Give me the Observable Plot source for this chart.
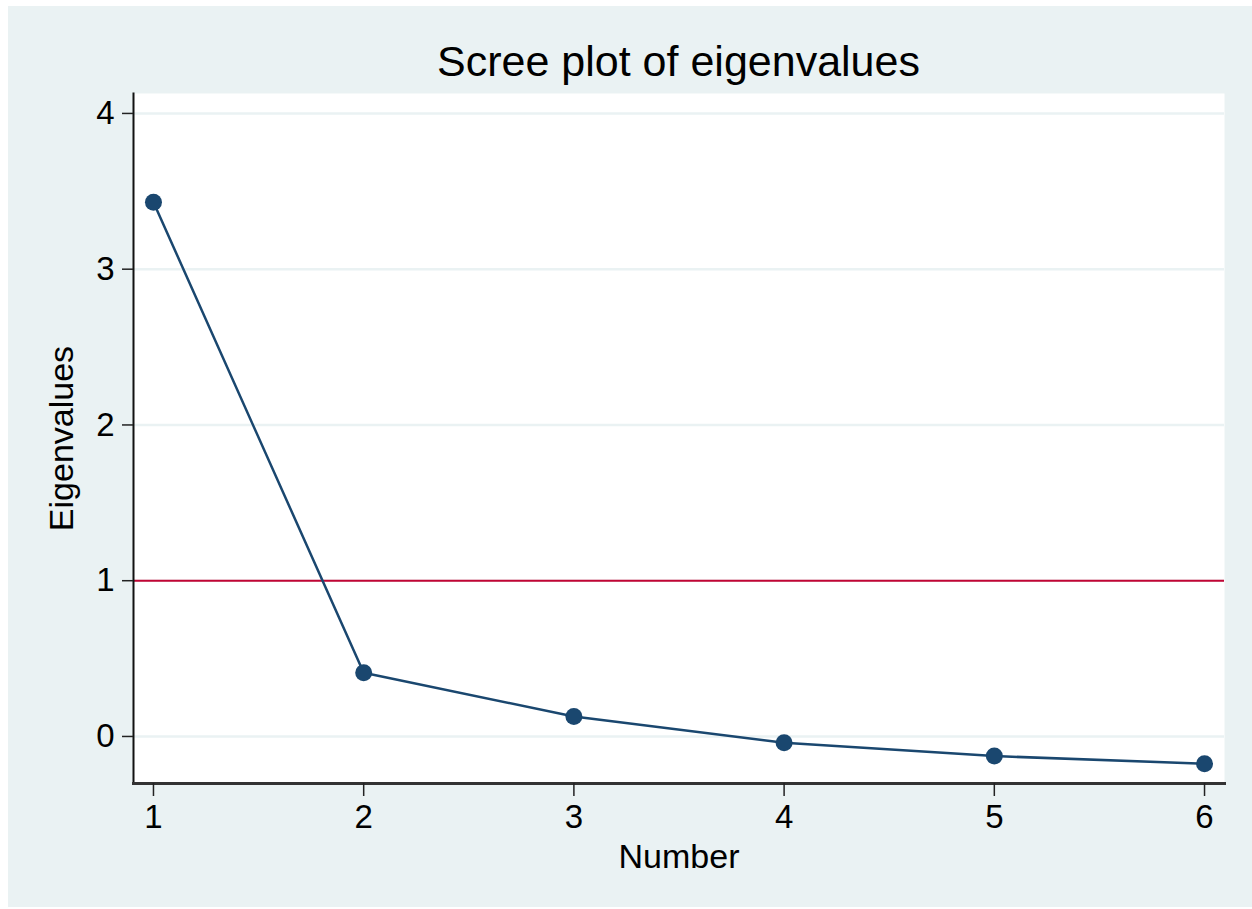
<!DOCTYPE html>
<html>
<head>
<meta charset="utf-8">
<script src="https://cdn.jsdelivr.net/npm/d3@7"></script>
<script src="https://cdn.jsdelivr.net/npm/@observablehq/plot@0.6"></script>
<style>
  html, body { margin: 0; padding: 0; background: #ffffff; }
  #page { position: relative; width: 1252px; height: 909px; overflow: hidden; font-family: "Liberation Sans", Arial, Helvetica, sans-serif; }
  #bg { position: absolute; left: 8px; top: 6px; width: 1244px; height: 901px; background: #eaf2f3; }
  #title { position: absolute; left: 133px; width: 1091px; top: 40px; height: 43px; line-height: 43px; text-align: center; font-size: 43px; color: #000; }
  #chart { position: absolute; left: 0; top: 86px; }
  #chart svg { background: transparent !important; }
</style>
</head>
<body>
<div id="page">
  <div id="bg"></div>
  <div id="title">Scree plot of eigenvalues</div>
  <div id="chart"></div>
</div>
<script>
// Data
const components = [1, 2, 3, 4, 5, 6];
const eigenvalues = [3.43, 0.409, 0.128, -0.041, -0.126, -0.175];
const yTicks = [0, 1, 2, 3, 4];
const xTicks = [1, 2, 3, 4, 5, 6];
const threshold = [1];
const xLabel = "Number";
const yLabel = "Eigenvalues";

const data = components.map((c, i) => ({number: c, eigen: eigenvalues[i]}));

const font = "Liberation Sans, Arial, Helvetica, sans-serif";

const chart = Plot.plot({
  width: 1252,
  height: 821,
  marginLeft: 133,
  marginRight: 28,
  marginTop: 7,
  marginBottom: 124,
  style: {fontFamily: font, background: "transparent", color: "#000"},
  x: {domain: [0.905, 6.095]},
  y: {domain: [-0.302, 4.128]},
  marks: [
    Plot.frame({fill: "white", stroke: null}),
    Plot.ruleY(yTicks, {stroke: "#eaf2f3", strokeWidth: 2.5}),
    Plot.ruleY(threshold, {stroke: "#c10534", strokeWidth: 2}),
    Plot.line(data, {x: "number", y: "eigen", stroke: "#1a476f", strokeWidth: 2.5}),
    Plot.dot(data, {x: "number", y: "eigen", r: 8.5, fill: "#1a476f", stroke: null}),
    Plot.frame({anchor: "left", stroke: "#111", strokeWidth: 2}),
    Plot.frame({anchor: "bottom", stroke: "#333", strokeWidth: 3}),
    Plot.axisY({ticks: yTicks, tickFormat: d3.format("d"), tickSize: 11, tickPadding: 8, fontSize: 33, label: null, stroke: "#222", strokeWidth: 1.5}),
    Plot.axisX({ticks: xTicks, tickFormat: d3.format("d"), tickSize: 13, tickPadding: 8, fontSize: 33, label: null, stroke: "#222", strokeWidth: 1.5}),
    Plot.text([yLabel], {text: d => d, frameAnchor: "left", dx: -71, rotate: -90, textAnchor: "middle", lineAnchor: "middle", fontSize: 34, fill: "#000"}),
    Plot.text([xLabel], {text: d => d, frameAnchor: "bottom", dy: 74, textAnchor: "middle", lineAnchor: "middle", fontSize: 34, fill: "#000"})
  ]
});
document.getElementById("chart").appendChild(chart);
</script>
</body>
</html>
